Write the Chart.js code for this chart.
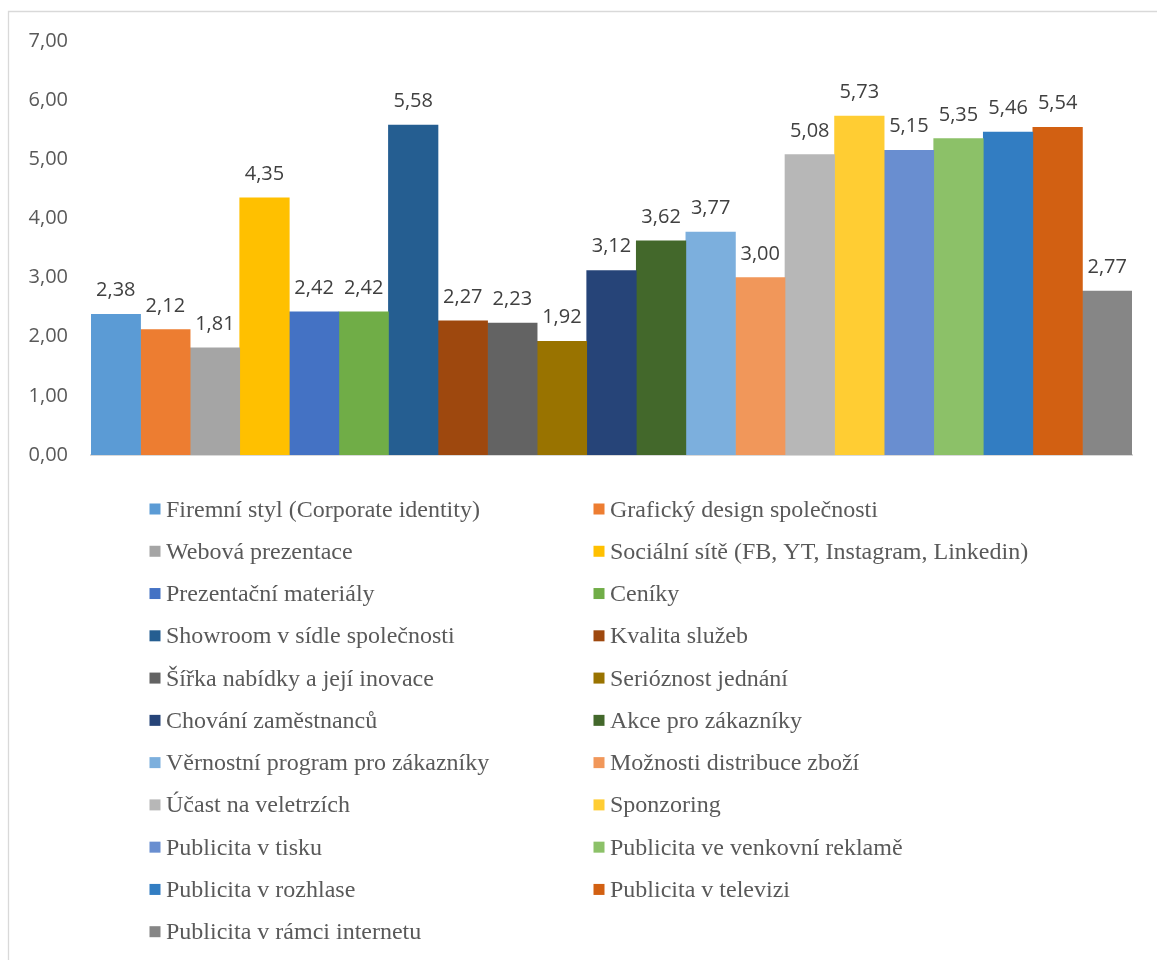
<!DOCTYPE html>
<html lang="cs">
<head>
<meta charset="utf-8">
<title>Hodnocení nástrojů</title>
<script src="https://cdn.jsdelivr.net/npm/chart.js@4/dist/chart.umd.min.js"></script>
<style>
  html, body { margin: 0; padding: 0; background: #ffffff; }
  #wrap { position: relative; width: 1157px; height: 960px; }
</style>
</head>
<body>
<div id="wrap"><canvas id="chart" width="1157" height="960"></canvas></div>
<script>
// Series names (one bar each)
const seriesNames = [
  'Firemní styl (Corporate identity)',
  'Grafický design společnosti',
  'Webová prezentace',
  'Sociální sítě (FB, YT, Instagram, Linkedin)',
  'Prezentační materiály',
  'Ceníky',
  'Showroom v sídle společnosti',
  'Kvalita služeb',
  'Šířka nabídky a její inovace',
  'Serióznost jednání',
  'Chování zaměstnanců',
  'Akce pro zákazníky',
  'Věrnostní program pro zákazníky',
  'Možnosti distribuce zboží',
  'Účast na veletrzích',
  'Sponzoring',
  'Publicita v tisku',
  'Publicita ve venkovní reklamě',
  'Publicita v rozhlase',
  'Publicita v televizi',
  'Publicita v rámci internetu'
];

// Average score per series
const seriesValues = [
  2.38, 2.12, 1.81, 4.35, 2.42, 2.42, 5.58, 2.27, 2.23, 1.92, 3.12,
  3.62, 3.77, 3.00, 5.08, 5.73, 5.15, 5.35, 5.46, 5.54, 2.77
];

const seriesColors = [
  '#5B9BD5', '#ED7D31', '#A5A5A5', '#FFC000', '#4472C4', '#70AD47',
  '#255E91', '#9E480E', '#636363', '#997300', '#264478', '#43682B',
  '#7CAFDD', '#F1975A', '#B7B7B7', '#FFCD33', '#698ED0', '#8CC168',
  '#327DC2', '#D26012', '#868686'
];

const categories = [''];
const yTickMin = 0;
const yTickMax = 7;
const yTickStep = 1;

const fmt = v => Number(v).toFixed(2).replace('.', ',');

// Thin frame along the top and left edge
const framePlugin = {
  id: 'frame',
  beforeDraw(chart) {
    const ctx = chart.ctx;
    ctx.save();
    ctx.strokeStyle = '#D9D9D9';
    ctx.lineWidth = 1.3;
    ctx.beginPath();
    ctx.moveTo(8.5, chart.height);
    ctx.lineTo(8.5, 11.5);
    ctx.lineTo(chart.width, 11.5);
    ctx.stroke();
    ctx.restore();
  }
};

// Value labels above each bar
const valueLabelPlugin = {
  id: 'valueLabels',
  afterDatasetsDraw(chart) {
    const ctx = chart.ctx;
    ctx.save();
    ctx.font = '20px "Open Sans"';
    ctx.fillStyle = '#404040';
    ctx.textAlign = 'center';
    ctx.textBaseline = 'alphabetic';
    chart.data.datasets.forEach((ds, i) => {
      const meta = chart.getDatasetMeta(i);
      meta.data.forEach((bar, j) => {
        ctx.fillText(fmt(ds.data[j]), bar.x, bar.y - 18);
      });
    });
    ctx.restore();
  }
};

// Two-column legend under the plot
const columnLegendPlugin = {
  id: 'columnLegend',
  afterDraw(chart, args, opts) {
    const ctx = chart.ctx;
    ctx.save();
    ctx.font = opts.font;
    ctx.textAlign = 'left';
    ctx.textBaseline = 'alphabetic';
    chart.data.datasets.forEach((ds, i) => {
      const col = i % 2;
      const row = Math.floor(i / 2);
      const cy = opts.top + row * opts.rowGap;
      const bx = opts.colX[col];
      ctx.fillStyle = ds.backgroundColor;
      ctx.fillRect(bx, cy - opts.box / 2, opts.box, opts.box);
      ctx.fillStyle = opts.color;
      ctx.fillText(ds.label, bx + opts.textGap, cy + 7.5);
    });
    ctx.restore();
  }
};

const datasets = seriesNames.map((name, i) => ({
  label: name,
  data: [seriesValues[i]],
  backgroundColor: seriesColors[i],
  borderWidth: 0,
  categoryPercentage: 1,
  barPercentage: 1
}));

new Chart(document.getElementById('chart'), {
  type: 'bar',
  data: { labels: categories, datasets },
  plugins: [framePlugin, valueLabelPlugin, columnLegendPlugin],
  options: {
    responsive: false,
    animation: false,
    events: [],
    layout: { padding: { top: 41, right: 25, bottom: 505, left: 0 } },
    plugins: {
      legend: { display: false },
      tooltip: { enabled: false },
      title: { display: false },
      columnLegend: {
        font: '24px "Liberation Serif", "Times New Roman", serif',
        color: '#595959',
        top: 509,
        rowGap: 42.27,
        colX: [149.5, 593.5],
        box: 11,
        textGap: 16.5
      }
    },
    scales: {
      x: {
        display: true,
        grid: { display: false, drawTicks: false, tickLength: 0 },
        ticks: { display: false },
        border: { display: true, color: '#D9D9D9', width: 2 },
        afterFit(scale) { scale.height = 0; }
      },
      y: {
        min: yTickMin,
        max: yTickMax,
        grid: { display: false, drawTicks: false, tickLength: 0 },
        border: { display: false },
        ticks: {
          stepSize: yTickStep,
          padding: 23,
          color: '#595959',
          font: { family: '"Open Sans"', size: 20 },
          callback: v => fmt(v)
        },
        afterFit(scale) { scale.width = 91; }
      }
    }
  }
});
</script>
</body>
</html>
